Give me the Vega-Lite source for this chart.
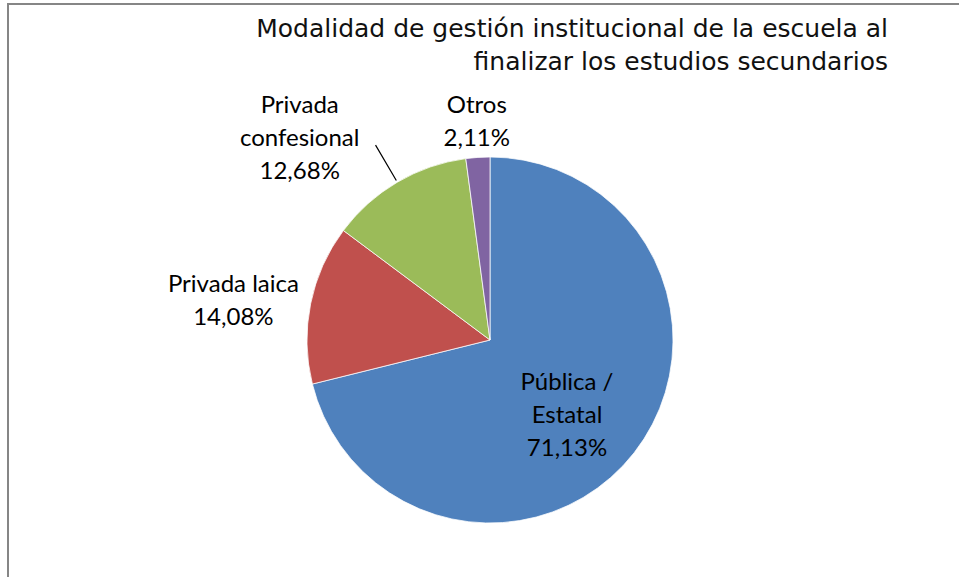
{
  "$schema": "https://vega.github.io/schema/vega-lite/v6.json",
  "autosize": "none",
  "padding": {"left": 8, "top": 4, "right": 0, "bottom": 0},
  "width": 964,
  "height": 672,
  "background": "white",
  "view": {"stroke": "#868686", "strokeWidth": 2, "fill": "white"},
  "title": {
    "text": ["Modalidad de gestión institucional de la escuela al", "finalizar los estudios secundarios"],
    "anchor": "end",
    "frame": "group",
    "align": "right",
    "dx": -84,
    "offset": -71,
    "font": "DejaVu Sans",
    "fontSize": 25,
    "fontWeight": "normal",
    "color": "#111111",
    "lineHeight": 33
  },
  "data": {
    "values": [
      {"modalidad": "Pública / Estatal", "porcentaje": 71.13, "orden": 1, "etiqueta": "Pública /\nEstatal\n71,13%"},
      {"modalidad": "Privada laica", "porcentaje": 14.08, "orden": 2, "etiqueta": "Privada laica\n14,08%"},
      {"modalidad": "Privada confesional", "porcentaje": 12.68, "orden": 3, "etiqueta": "Privada\nconfesional\n12,68%"},
      {"modalidad": "Otros", "porcentaje": 2.11, "orden": 4, "etiqueta": "Otros\n2,11%"}
    ]
  },
  "transform": [
    {"stack": "porcentaje", "groupby": [], "sort": [{"field": "orden", "order": "ascending"}], "as": ["ini", "fin"]}
  ],
  "encoding": {
    "theta": {"field": "ini", "type": "quantitative", "scale": {"domain": [0, 100]}},
    "theta2": {"field": "fin"}
  },
  "layer": [
    {
      "mark": {"type": "arc", "outerRadius": 183, "stroke": "#ffffff", "strokeWidth": 0.75},
      "encoding": {
        "color": {
          "field": "modalidad",
          "type": "nominal",
          "scale": {
            "domain": ["Pública / Estatal", "Privada laica", "Privada confesional", "Otros"],
            "range": ["#4F81BD", "#C0504D", "#9BBB59", "#8064A2"]
          },
          "legend": null
        }
      }
    },
    {
      "transform": [{"filter": "datum.orden == 3"}],
      "mark": {"type": "arc", "innerRadius": 185, "outerRadius": 226, "padAngle": 1.2, "fill": null, "fillOpacity": 0, "stroke": "#000000", "strokeWidth": 1.2}
    },
    {
      "transform": [{"filter": "datum.orden == 1"}],
      "mark": {"type": "text", "radius": 1, "dx": 77, "dy": 44, "font": "Lato", "fontSize": 24, "lineBreak": "\n", "lineHeight": 33, "color": "#000000", "align": "center", "baseline": "middle"},
      "encoding": {"text": {"field": "etiqueta"}}
    },
    {
      "transform": [{"filter": "datum.orden == 2"}],
      "mark": {"type": "text", "radius": 183, "dx": -79, "dy": -99, "font": "Lato", "fontSize": 24, "lineBreak": "\n", "lineHeight": 33, "color": "#000000", "align": "center", "baseline": "middle"},
      "encoding": {"text": {"field": "etiqueta"}}
    },
    {
      "transform": [{"filter": "datum.orden == 3"}],
      "mark": {"type": "text", "radius": 240, "dx": 2, "dy": -90, "font": "Lato", "fontSize": 24, "lineBreak": "\n", "lineHeight": 33, "color": "#000000", "align": "center", "baseline": "middle"},
      "encoding": {"text": {"field": "etiqueta"}}
    },
    {
      "transform": [{"filter": "datum.orden == 4"}],
      "mark": {"type": "text", "radius": 236, "dx": 18, "dy": 0, "font": "Lato", "fontSize": 24, "lineBreak": "\n", "lineHeight": 33, "color": "#000000", "align": "center", "baseline": "middle"},
      "encoding": {"text": {"field": "etiqueta"}}
    }
  ]
}
